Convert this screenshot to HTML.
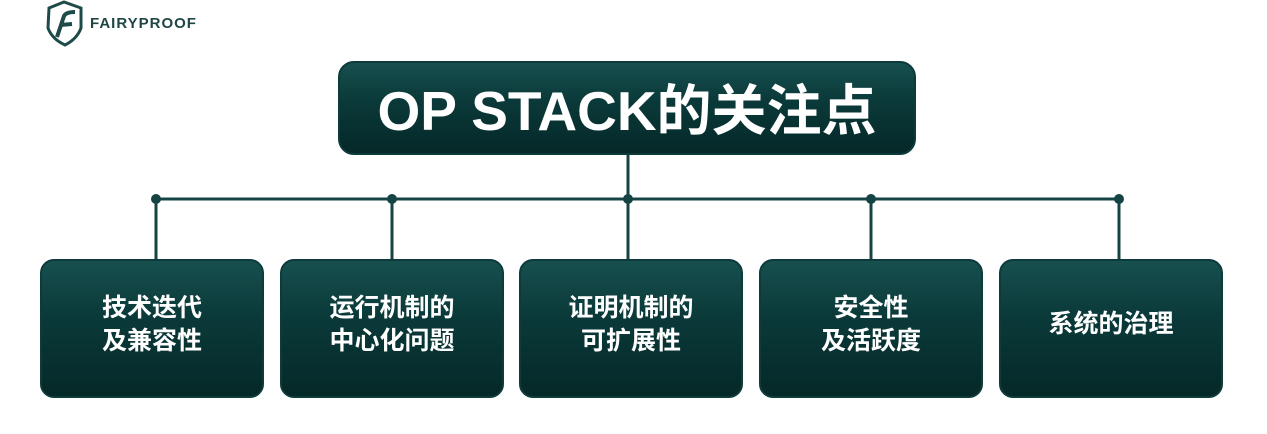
<!DOCTYPE html>
<html><head><meta charset="utf-8"><style>
html,body{margin:0;padding:0;background:#fff;width:1267px;height:434px;overflow:hidden;position:relative;font-family:"Liberation Sans","Noto Sans CJK SC",sans-serif}
.box{position:absolute;border-radius:14px;background:linear-gradient(#17504f,#0b3a3a 40%,#052828);border:2px solid #0d3a3a;box-sizing:border-box;color:#fff;font-weight:bold;display:flex;align-items:center;justify-content:center;text-align:center}
.s{top:259px;height:139px;width:224px;font-size:25px;line-height:33px;padding-bottom:8px}
</style></head><body>
<svg width="1267" height="434" style="position:absolute;left:0;top:0">
<g stroke="#164444" stroke-width="3" fill="none">
<line x1="156" y1="199" x2="1119" y2="199"/>
<line x1="628" y1="150" x2="628" y2="260"/>
<line x1="156" y1="199" x2="156" y2="260"/>
<line x1="392" y1="199" x2="392" y2="260"/>
<line x1="871" y1="199" x2="871" y2="260"/>
<line x1="1119" y1="199" x2="1119" y2="260"/>
</g>
<g fill="#164444"><circle cx="156" cy="199" r="5"/><circle cx="392" cy="199" r="5"/><circle cx="628" cy="199" r="5"/><circle cx="871" cy="199" r="5"/><circle cx="1119" cy="199" r="5"/><circle cx="628" cy="150" r="5"/></g>
<path d="M49 8 L64 2 L81 8 L81 28 Q77 39 65 45 Q52 39 48 28 Z" fill="none" stroke="#1f4a4a" stroke-width="3"/>
<path d="M57 37 L64 16 Q66 12 75 12 M60 25 L72 24" fill="none" stroke="#1f4a4a" stroke-width="4"/>
</svg>
<div style="position:absolute;left:90px;top:15px;font-size:15px;font-weight:bold;color:#1f4545;letter-spacing:1px">FAIRYPROOF</div>
<div class="box" style="left:338px;top:61px;width:578px;height:94px;border-radius:16px;font-size:55px;padding-bottom:4px">OP STACK的关注点</div>
<div class="box s" style="left:40px">技术迭代<br>及兼容性</div>
<div class="box s" style="left:280px">运行机制的<br>中心化问题</div>
<div class="box s" style="left:519px">证明机制的<br>可扩展性</div>
<div class="box s" style="left:759px">安全性<br>及活跃度</div>
<div class="box s" style="left:999px">系统的治理</div>
</body></html>
